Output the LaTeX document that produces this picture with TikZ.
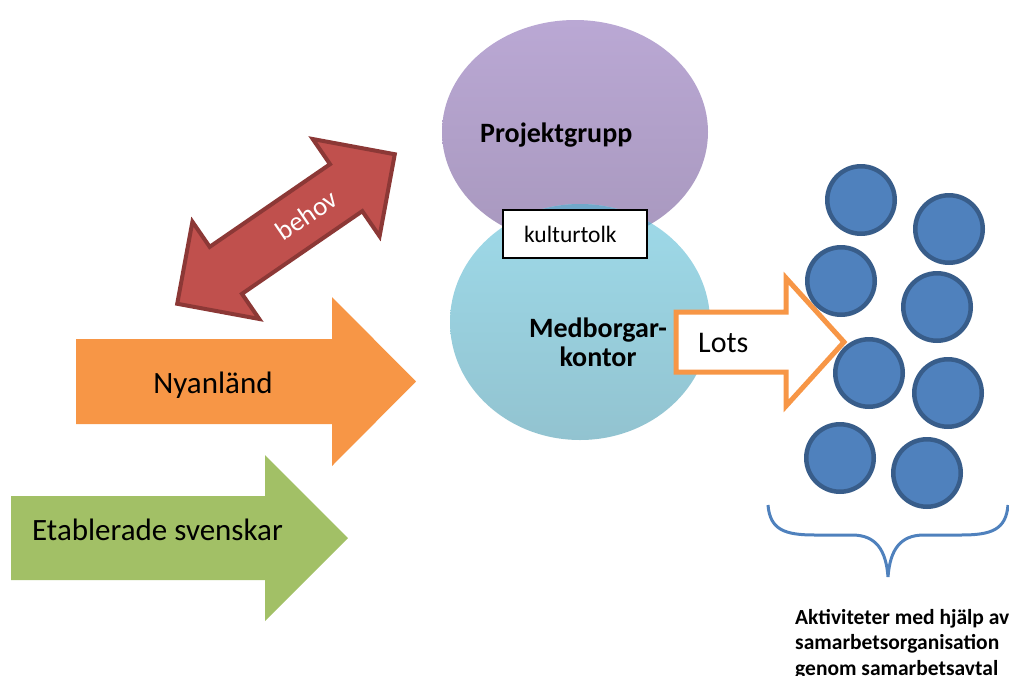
\documentclass[tikz,border=0pt]{standalone}
\usepackage{fontspec}
\setmainfont{Carlito}
\usetikzlibrary{shapes.geometric}
\definecolor{orangeA}{HTML}{F79646}
\definecolor{greenA}{HTML}{A2C066}
\definecolor{redA}{HTML}{C0504D}
\definecolor{redB}{HTML}{8C3836}
\definecolor{purpTop}{RGB}{186,168,212}
\definecolor{purpBot}{RGB}{168,152,190}
\definecolor{blueTop}{RGB}{158,218,233}
\definecolor{blueBot}{RGB}{146,195,208}
\definecolor{overlapC}{RGB}{112,168,202}
\definecolor{dotFill}{HTML}{4F81BD}
\definecolor{dotLine}{HTML}{385D8A}
\begin{document}
\begin{tikzpicture}[x=1pt,y=-1pt,
  bigtxt/.style={inner sep=0pt, font=\fontsize{31}{37}\selectfont},
  boldtxt/.style={inner sep=0pt, font=\bfseries\fontsize{28}{33}\selectfont},
  dot/.style={circle, fill=dotFill, draw=dotLine, line width=4.5pt, minimum size=67.5pt, inner sep=0pt},
  redarrow/.style={fill=redA, draw=redB, line width=4pt, line join=miter},
  lotsarrow/.style={fill=white, draw=orangeA, line width=5pt, line join=miter},
  bracestyle/.style={draw=dotFill, line width=3pt},
  bubble/.style={ellipse, inner sep=0pt, draw=none}
]
\useasboundingbox (0,0) rectangle (1009,675);

% big input arrows
\fill[orangeA] (76,339) -- (332,339) -- (332,297) -- (416,381.5) -- (332,466) -- (332,424) -- (76,424) -- cycle;
\fill[greenA] (11,496) -- (265,496) -- (265,455) -- (348,538) -- (265,621) -- (265,580) -- (11,580) -- cycle;
\node[bigtxt, anchor=base] (nyan) at (213,393) {Nyanländ};
\node[bigtxt, anchor=base west] (etab) at (32,540) {Etablerade svenskar};

% double arrow
\begin{scope}[shift={(286,229)}, rotate=34.5]
  \filldraw[redarrow] (-132,0) -- (-73,59) -- (-73,28.5) -- (73,28.5) -- (73,59) -- (132,0) -- (73,-59) -- (73,-28.5) -- (-73,-28.5) -- (-73,-59) -- cycle;
  \node[inner sep=0pt, text=white, font=\fontsize{27}{32}\selectfont, rotate=34.5] (behov) at (25,0) {behov};
\end{scope}

% bubbles
\node[bubble, top color=purpTop, bottom color=purpBot, minimum width=266pt, minimum height=224pt] (proj) at (575,132) {};
\node[bubble, top color=blueTop, bottom color=blueBot, minimum width=260pt, minimum height=236pt] (med) at (580,322) {};
\begin{scope}
  \clip (575,132) ellipse [x radius=133, y radius=112];
  \fill[overlapC] (580,322) ellipse [x radius=130, y radius=118];
\end{scope}
\node[boldtxt, anchor=base west] (projtxt) at (480,142) {Projektgrupp};
\node[boldtxt, anchor=base] (med1) at (598,337) {Medborgar-};
\node[boldtxt, anchor=base] (med2) at (598,366) {kontor};

\node[draw=black, fill=white, line width=1.5pt, minimum width=144pt, minimum height=48pt,
      inner xsep=21pt, inner ysep=0pt, text width=102pt, align=left,
      font=\fontsize{23.5}{28}\selectfont] (kult) at (575,234) {kulturtolk};

% Lots arrow
\filldraw[lotsarrow] (676,312) -- (786,312) -- (786,278) -- (844,342) -- (786,406) -- (786,372) -- (676,372) -- cycle;
\node[inner sep=0pt, font=\fontsize{30}{36}\selectfont, anchor=base west] (lots) at (698,352) {Lots};

% activity dots
\node[dot] (d1) at (861,200) {};
\node[dot] (d2) at (949,229) {};
\node[dot] (d3) at (841,281) {};
\node[dot] (d4) at (937,307) {};
\node[dot] (d5) at (869,373) {};
\node[dot] (d6) at (948,393) {};
\node[dot] (d7) at (840,458) {};
\node[dot] (d8) at (927,473) {};

% brace
\draw[bracestyle] (768,505) .. controls (770,530) and (785,535) .. (815,535) -- (852,535)
  .. controls (876,535) and (886,550) .. (888,577)
  .. controls (890,550) and (900,535) .. (924,535) -- (961,535)
  .. controls (991,535) and (1006,530) .. (1008,505);

\node[inner sep=0pt, anchor=north west, align=left, font=\bfseries\fontsize{21.5}{25.5}\selectfont] (akt) at (795,609)
  {Aktiviteter med hjälp av\\samarbetsorganisation\\genom samarbetsavtal};
\end{tikzpicture}
\end{document}
